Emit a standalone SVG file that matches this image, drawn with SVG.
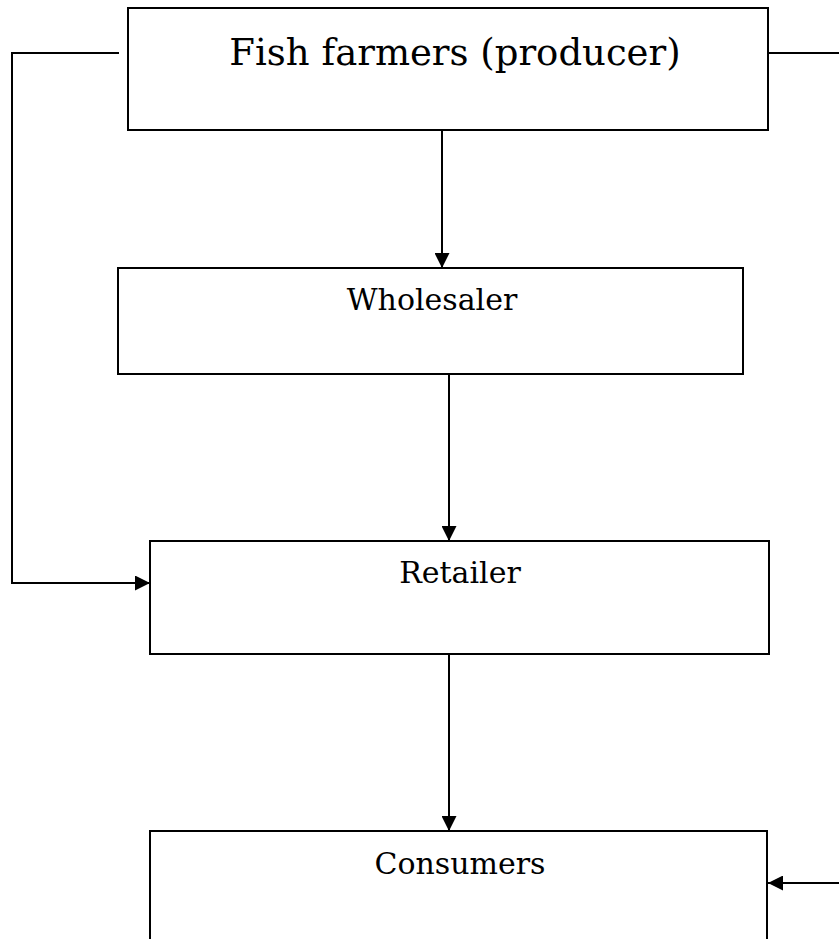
<svg xmlns="http://www.w3.org/2000/svg" width="839" height="939" viewBox="0 0 839 939">
<style>
.box{fill:#fff;stroke:#000;stroke-width:2}
.con{fill:none;stroke:#000;stroke-width:2}
.lbl{font-family:"DejaVu Serif","Liberation Serif",serif;font-size:30px;fill:#000;text-anchor:middle}
.ttl{font-family:"DejaVu Serif","Liberation Serif",serif;font-size:37px;fill:#000;text-anchor:middle}
</style>
<defs>
<marker id="arr" markerUnits="userSpaceOnUse" markerWidth="15" markerHeight="15" refX="15" refY="7.5" orient="auto">
<path d="M0,0 L15,7.5 L0,15 z" fill="#000"/>
</marker>
</defs>
<rect width="839" height="939" fill="#fff"/>
<g id="connectors">
<path class="con" d="M119,53 H12 V583 H150" marker-end="url(#arr)"/>
<path class="con" d="M768,53 H839"/>
<path class="con" d="M839,883 H768" marker-end="url(#arr)"/>
<path class="con" d="M442,130 V268" marker-end="url(#arr)"/>
<path class="con" d="M449,374 V541" marker-end="url(#arr)"/>
<path class="con" d="M449,654 V831" marker-end="url(#arr)"/>
</g>
<g id="producer">
<rect class="box" x="128" y="8" width="640" height="122"/>
<text class="ttl" x="455" y="65">Fish farmers (producer)</text>
</g>
<g id="wholesaler">
<rect class="box" x="118" y="268" width="625" height="106"/>
<text class="lbl" x="432" y="310">Wholesaler</text>
</g>
<g id="retailer">
<rect class="box" x="150" y="541" width="619" height="113"/>
<text class="lbl" x="460" y="583">Retailer</text>
</g>
<g id="consumers">
<rect class="box" x="150" y="831" width="617" height="130"/>
<text class="lbl" x="460" y="874">Consumers</text>
</g>
</svg>
